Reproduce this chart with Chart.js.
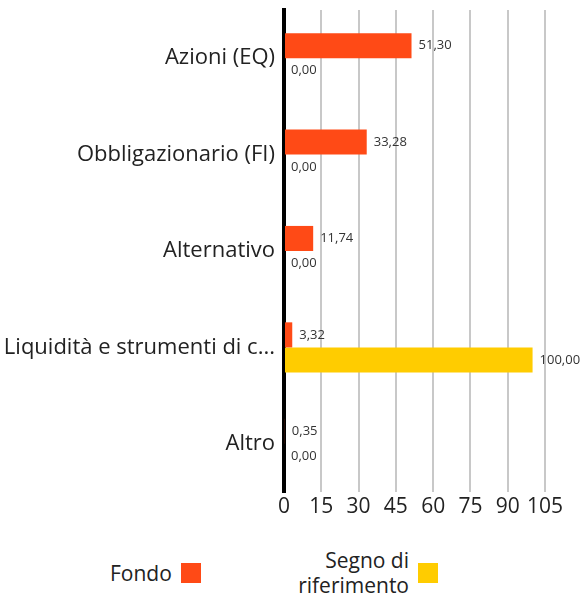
<!DOCTYPE html>
<html>
<head>
<meta charset="utf-8">
<script src="https://cdn.jsdelivr.net/npm/chart.js@4"></script>
<style>
    body { margin: 0; background: #fff; font-family: "Open Sans", sans-serif; }
    #wrap { position: relative; width: 585px; height: 530px; }
    .legend { position: absolute; top: 553px; left: 0; width: 585px; height: 40px; font-size: 21px; color: #222; }
    .item { position: absolute; display: flex; align-items: center; }
    .item span.txt { text-align: right; line-height: 25px; }
    .item span.box { display: inline-block; width: 20px; height: 20px; margin-left: 9px; }
</style>
</head>
<body>
<div id="wrap"><canvas id="chart"></canvas></div>
<div class="legend">
    <div class="item" style="left:110px; top:0; height:40px;"><span class="txt">Fondo</span><span class="box" style="background:#FF4A16"></span></div>
    <div class="item" style="right:147px; top:-8px; height:56px;"><span class="txt">Segno di<br>riferimento</span><span class="box" style="background:#FFCC00"></span></div>
</div>
<script>
// Chart data
const categories = ['Azioni (EQ)', 'Obbligazionario (FI)', 'Alternativo', 'Liquidità e strumenti di c...', 'Altro'];
const fondoValues = [51.30, 33.28, 11.74, 3.32, 0.35];
const benchmarkValues = [0.00, 0.00, 0.00, 100.00, 0.00];
const xTicks = [0, 15, 30, 45, 60, 75, 90, 105];

const fontFamily = '"Open Sans", sans-serif';

// Draw value labels to the right of each bar
const valueLabels = {
    id: 'valueLabels',
    afterDatasetsDraw(chart) {
        const ctx = chart.ctx;
        ctx.save();
        ctx.font = '13px ' + fontFamily;
        ctx.fillStyle = '#333';
        ctx.textBaseline = 'middle';
        ctx.textAlign = 'left';
        chart.data.datasets.forEach((ds, i) => {
            chart.getDatasetMeta(i).data.forEach((bar, j) => {
                const txt = ds.data[j].toFixed(2).replace('.', ',');
                ctx.fillText(txt, bar.x + 7, bar.y);
            });
        });
        ctx.restore();
    }
};

const ctx = document.getElementById('chart').getContext('2d');
new Chart(ctx, {
    type: 'bar',
    data: {
        labels: categories,
        datasets: [{
            label: 'Fondo',
            data: fondoValues,
            backgroundColor: '#FF4A16',
            categoryPercentage: 0.52,
            barPercentage: 1
        }, {
            label: 'Segno di riferimento',
            data: benchmarkValues,
            backgroundColor: '#FFCC00',
            categoryPercentage: 0.52,
            barPercentage: 1
        }]
    },
    options: {
        indexAxis: 'y',
        responsive: true,
        maintainAspectRatio: false,
        animation: false,
        layout: {
            padding: { top: 10, right: 40, left: 0, bottom: 0 }
        },
        plugins: {
            legend: { display: false },
            tooltip: { enabled: false }
        },
        scales: {
            x: {
                min: 0,
                max: 105,
                afterBuildTicks: scale => {
                    scale.ticks = xTicks.map(v => ({ value: v }));
                },
                afterFit: scale => { scale.height = 38; },
                grid: {
                    color: '#c8c8c8',
                    lineWidth: 2,
                    drawTicks: false
                },
                border: { display: false },
                ticks: {
                    padding: 2,
                    maxRotation: 0,
                    minRotation: 0,
                    autoSkip: false,
                    color: '#222',
                    font: { family: fontFamily, size: 21 }
                }
            },
            y: {
                afterFit: scale => {
                    scale.width = 284;
                    scale.paddingTop = 0;
                    scale.paddingBottom = 0;
                },
                grid: { display: false, drawTicks: false },
                border: { color: '#000', width: 4 },
                ticks: {
                    padding: 9,
                    color: '#222',
                    font: { family: fontFamily, size: 22 }
                }
            }
        }
    },
    plugins: [valueLabels]
});
</script>
</body>
</html>
